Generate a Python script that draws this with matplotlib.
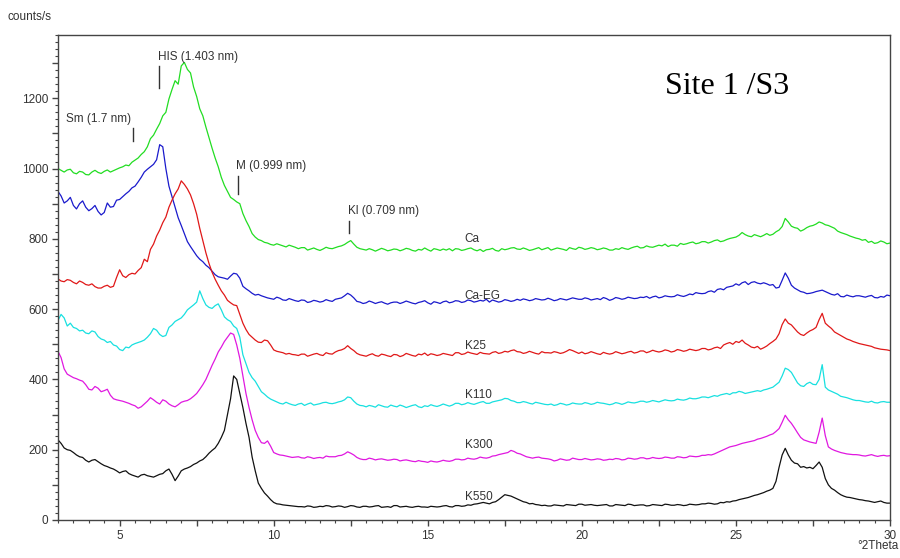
import numpy as np
import matplotlib
matplotlib.use("Agg")
import matplotlib.pyplot as plt
from matplotlib.ticker import MultipleLocator, FuncFormatter

plt.rcParams['font.family'] = ['Liberation Sans', 'DejaVu Sans']

# scan settings (degrees 2theta), one row below = 1 degree
scan_start = 3.0
scan_step = 0.1

# counts/s for each treatment
ca = [
    1000, 995, 990, 996, 998, 988, 985, 992, 990, 983,
    982, 990, 995, 989, 986, 992, 996, 990, 994, 998,
    1002, 1005, 1010, 1008, 1018, 1024, 1030, 1040, 1048, 1062,
    1085, 1095, 1112, 1128, 1150, 1160, 1198, 1225, 1250, 1240,
    1292, 1302, 1282, 1272, 1232, 1205, 1170, 1150, 1118, 1088,
    1058, 1030, 1005, 975, 952, 935, 918, 912, 905, 900,
    872, 852, 835, 815, 805, 798, 795, 790, 788, 784,
    782, 786, 783, 780, 777, 782, 779, 776, 772, 775,
    775, 768, 771, 774, 770, 767, 771, 776, 773, 772,
    775, 778, 780, 784, 790, 795, 785, 776, 772, 770,
    768, 772, 769, 765, 769, 773, 770, 766, 768, 771,
    770, 766, 769, 773, 771, 767, 765, 770, 768, 774,
    769, 765, 772, 770, 767, 771, 768, 772, 766, 772,
    771, 767, 769, 772, 774, 769, 766, 770, 764, 769,
    770, 773, 767, 765, 772, 769, 771, 774, 775, 771,
    770, 774, 771, 767, 769, 772, 775, 769, 772, 775,
    768, 771, 774, 772, 770, 767, 775, 772, 770, 776,
    774, 770, 772, 775, 773, 769, 771, 774, 772, 768,
    768, 772, 770, 775, 772, 770, 774, 777, 779, 774,
    775, 780, 777, 776, 779, 782, 780, 785, 778, 782,
    782, 779, 787, 784, 786, 789, 791, 786, 788, 792,
    792, 788, 791, 795, 797, 792, 794, 798, 801, 803,
    805, 810, 818, 812, 808, 806, 812, 809, 806, 810,
    815, 810, 813, 820, 825, 835, 858, 848, 836, 832,
    830, 822, 826, 832, 836, 838, 842, 848, 845, 840,
    838, 834, 830, 822, 818, 815, 812, 808, 805, 802,
    800, 796, 798, 790, 793, 787, 789, 794, 791, 786,
    788,
]
ca_eg = [
    935, 922, 902, 908, 918, 895, 885, 900, 908, 890,
    880, 886, 895, 878, 868, 875, 902, 890, 892, 910,
    912, 920, 928, 935, 945, 950, 962, 975, 990, 998,
    1005, 1012, 1025, 1068, 1062, 1000, 950, 920, 890, 860,
    838, 815, 792, 778, 765, 752, 742, 735, 725, 718,
    708, 698, 692, 690, 688, 685, 694, 702, 700, 688,
    665, 658, 652, 645, 640, 642, 638, 635, 632, 630,
    628, 634, 631, 626, 625, 630, 627, 624, 622, 626,
    625, 619, 621, 625, 623, 620, 622, 627, 624, 622,
    628, 630, 632, 638, 645, 640, 632, 622, 620, 616,
    618, 623, 620, 616, 619, 621, 617, 614, 618, 620,
    620, 616, 619, 623, 620, 617, 615, 619, 621, 624,
    618, 614, 621, 619, 616, 621, 623, 618, 620, 624,
    623, 619, 621, 626, 624, 620, 622, 625, 623, 628,
    620, 626, 623, 620, 622, 627, 625, 622, 624, 628,
    625, 629, 627, 624, 626, 630, 628, 626, 627, 631,
    628, 624, 626, 630, 628, 626, 629, 632, 630, 628,
    628, 632, 630, 626, 628, 630, 627, 633, 630, 625,
    628, 633, 631, 628, 630, 634, 632, 630, 631, 634,
    633, 636, 631, 635, 637, 632, 634, 638, 636, 635,
    636, 641, 638, 636, 639, 643, 641, 647, 645, 644,
    645, 650, 652, 648, 656, 658, 655, 662, 664, 666,
    672, 668, 675, 678, 670, 676, 678, 674, 672, 675,
    672, 668, 670, 660, 662, 682, 703, 688, 668, 660,
    655, 650, 648, 644, 645, 647, 650, 652, 654, 650,
    646, 642, 640, 644, 636, 635, 640, 637, 635, 638,
    638, 636, 634, 637, 639, 633, 632, 636, 634, 640,
    638,
]
k25 = [
    686, 680, 678, 684, 682, 676, 672, 680, 676, 670,
    668, 672, 664, 660, 660, 665, 668, 662, 665, 690,
    712, 695, 690, 698, 702, 700, 710, 718, 742, 735,
    770, 785, 808, 825, 846, 862, 890, 910, 928, 942,
    965, 955, 942, 925, 900, 870, 830, 795, 760, 730,
    705, 685, 668, 652, 640, 625, 618, 612, 610, 585,
    560, 542, 528, 520, 512, 506, 505, 512, 510, 498,
    484, 480, 478, 476, 472, 474, 471, 470, 468, 472,
    472, 466, 469, 472, 474, 470, 468, 476, 473, 472,
    478, 482, 484, 488, 496, 488, 482, 474, 470, 468,
    466, 470, 473, 468, 466, 472, 470, 467, 465, 471,
    470, 465, 468, 474, 471, 468, 466, 472, 470, 475,
    468, 473, 471, 468, 470, 474, 472, 470, 468, 476,
    476, 471, 473, 478, 475, 473, 471, 477, 474, 473,
    472, 477, 479, 474, 476, 480, 478, 482, 484, 479,
    478, 474, 476, 480, 477, 474, 472, 479, 476, 476,
    475, 479, 477, 474, 476, 480, 485, 482, 478, 474,
    478, 473, 475, 479, 476, 473, 471, 477, 474, 472,
    474, 479, 476, 473, 475, 478, 480, 475, 477, 481,
    481, 476, 479, 483, 480, 478, 480, 484, 482, 478,
    480, 485, 483, 480, 482, 486, 484, 482, 484, 488,
    488, 484, 486, 490, 492, 488, 498, 502, 505, 500,
    508, 505, 512, 503, 498, 492, 490, 494, 486, 490,
    495, 502, 508, 515, 530, 556, 572, 560, 555, 545,
    535, 528, 525, 532, 538, 542, 548, 570, 588, 560,
    552, 545, 535, 530, 525, 520, 515, 512, 508, 505,
    502, 500, 498, 496, 494, 490, 488, 486, 485, 484,
    482,
]
k110 = [
    568, 585, 575, 552, 560, 548, 545, 538, 540, 532,
    530, 538, 535, 522, 515, 512, 505, 508, 498, 495,
    485, 482, 492, 490, 498, 502, 505, 508, 512, 520,
    530, 545, 540, 528, 522, 525, 548, 555, 565, 570,
    575, 585, 598, 605, 612, 620, 652, 630, 612, 605,
    602, 610, 615, 598, 578, 570, 565, 552, 545, 520,
    470, 445, 420, 405, 395, 380, 365, 358, 350, 344,
    340, 336, 332, 330, 335, 331, 328, 326, 330, 332,
    326, 330, 333, 327, 329, 331, 334, 335, 332, 331,
    333, 336, 338, 342, 350, 348, 338, 330, 326, 325,
    322, 326, 324, 321, 328, 325, 322, 321, 327, 324,
    322, 327, 324, 320, 323, 326, 328, 322, 320, 325,
    323, 328, 325, 323, 326, 330, 327, 324, 327, 332,
    332, 328, 330, 334, 331, 329, 332, 335, 337, 332,
    332, 336, 338, 340, 342, 346, 345, 340, 338, 334,
    334, 337, 335, 332, 330, 335, 333, 331, 329, 328,
    330, 326, 328, 332, 330, 327, 329, 333, 331, 330,
    330, 334, 332, 329, 331, 335, 333, 332, 330, 328,
    330, 334, 332, 329, 332, 336, 334, 333, 335, 338,
    338, 335, 337, 340, 338, 336, 339, 342, 340, 339,
    340, 344, 342, 341, 343, 347, 345, 345, 347, 350,
    350, 348, 351, 354, 352, 356, 358, 360, 357, 362,
    362, 366, 364, 360, 362, 364, 366, 368, 366, 370,
    372, 375, 378, 385, 392, 410, 432, 428, 420, 405,
    390, 382, 380, 388, 392, 386, 385, 400, 442, 378,
    370, 366, 362, 358, 352, 350, 348, 345, 342, 340,
    340, 338, 336, 335, 338, 334, 333, 336, 337, 335,
    335,
]
k300 = [
    480, 462, 430, 415, 410, 405, 402, 398, 395, 385,
    372, 370, 380, 375, 365, 368, 372, 355, 345, 342,
    340, 338, 335, 332, 328, 325, 318, 322, 330, 338,
    348, 342, 335, 330, 342, 338, 330, 325, 322, 328,
    335, 338, 340, 345, 352, 360, 372, 385, 400, 420,
    440, 458, 478, 492, 508, 520, 532, 528, 498, 460,
    410, 360, 320, 285, 255, 235, 220, 218, 225, 210,
    192, 188, 185, 184, 182, 180, 178, 179, 180, 177,
    176, 180, 178, 175, 177, 178, 176, 182, 180, 180,
    180, 183, 184, 188, 194, 190, 185, 178, 174, 172,
    172, 176, 174, 171, 173, 174, 172, 170, 171, 173,
    172, 168, 170, 171, 169, 167, 166, 169, 167, 166,
    164, 168, 166, 165, 167, 170, 168, 167, 169, 173,
    173, 171, 172, 176, 174, 173, 175, 179, 177, 176,
    178, 182, 183, 186, 188, 190, 192, 198, 195, 190,
    188, 184, 180, 178, 176, 178, 179, 176, 175, 174,
    172, 168, 170, 174, 172, 170, 171, 176, 174, 172,
    172, 175, 173, 171, 172, 174, 173, 170, 171, 173,
    172, 175, 174, 171, 172, 176, 175, 173, 174, 177,
    177, 174, 175, 178, 176, 175, 176, 179, 178, 176,
    176, 180, 179, 177, 178, 182, 181, 180, 181, 184,
    184, 186, 185, 188, 192, 196, 200, 204, 208, 210,
    212, 215, 218, 220, 222, 224, 226, 230, 232, 235,
    238, 242, 245, 252, 260, 278, 298, 285, 275, 262,
    248, 235, 228, 225, 222, 220, 218, 250, 290, 240,
    208, 202, 198, 195, 192, 190, 188, 187, 186, 186,
    185, 183, 182, 184, 186, 183, 181, 183, 184, 182,
    183,
]
k550 = [
    228, 218, 205, 200, 198, 192, 185, 180, 178, 170,
    165, 170, 172, 166, 160, 155, 152, 148, 145, 140,
    134, 138, 140, 132, 128, 125, 122, 128, 130, 126,
    124, 122, 126, 130, 132, 140, 145, 130, 112, 125,
    140, 145, 148, 152, 158, 162, 168, 172, 180, 190,
    198, 205, 218, 235, 255, 300, 345, 410, 400, 360,
    320, 275, 235, 179, 140, 105, 90, 77, 68, 58,
    50, 46, 45, 43, 42, 41, 40, 39, 38, 38,
    37, 40, 39, 36, 37, 39, 38, 41, 40, 37,
    38, 40, 39, 36, 38, 41, 40, 37, 36, 39,
    39, 37, 38, 40, 41, 36, 37, 38, 36, 41,
    41, 37, 38, 39, 37, 36, 38, 39, 37, 37,
    36, 39, 38, 37, 38, 40, 41, 38, 37, 41,
    41, 39, 40, 43, 42, 45, 46, 48, 50, 48,
    46, 50, 52, 58, 65, 72, 70, 68, 64, 60,
    56, 52, 50, 46, 47, 44, 43, 41, 42, 40,
    40, 43, 42, 41, 40, 44, 43, 42, 41, 45,
    45, 42, 43, 44, 42, 41, 42, 43, 44, 40,
    40, 44, 43, 42, 41, 45, 44, 41, 42, 43,
    43, 40, 41, 44, 43, 42, 41, 45, 44, 42,
    42, 44, 43, 41, 42, 45, 44, 43, 44, 46,
    46, 48, 47, 45, 46, 50, 49, 52, 51, 54,
    55, 58, 60, 62, 64, 67, 70, 72, 75, 78,
    82, 85, 90, 110, 150, 185, 204, 185, 170, 162,
    160, 150, 152, 148, 150, 146, 155, 165, 150, 118,
    100, 90, 85, 78, 72, 68, 65, 64, 62, 60,
    58, 57, 55, 54, 52, 50, 52, 54, 50, 48,
    48,
]

series = [ca, ca_eg, k25, k110, k300, k550]
names = ['Ca', 'Ca-EG', 'K25', 'K110', 'K300', 'K550']
colors = ['#22dd22', '#1a1acc', '#e01818', '#18e0e0', '#e018e0', '#111111']
name_y = [800, 638, 496, 355, 213, 65]

# reflection markers: label, 2theta, tick bottom, tick top
peak_names = ['Sm (1.7 nm)', 'HIS (1.403 nm)', 'M (0.999 nm)', 'Kl (0.709 nm)']
peak_pos = [5.42, 6.29, 8.84, 12.45]
peak_lo = [1078, 1228, 928, 817]
peak_hi = [1115, 1291, 979, 851]

fig = plt.figure(figsize=(9, 5.58), dpi=100)
ax = fig.add_axes([58 / 900, 38 / 558, 832 / 900, 485 / 558])

two_theta = scan_start + scan_step * np.arange(len(ca))
for ys, c in zip(series, colors):
    ax.plot(two_theta, ys, color=c, lw=0.9)

for n, yy in zip(names, name_y):
    ax.text(16.2, yy, n, fontsize=8.5, color='#333333', va='center', ha='left')

for i in range(len(peak_names)):
    ax.plot([peak_pos[i], peak_pos[i]], [peak_lo[i], peak_hi[i]], color='#333333', lw=1)
    if i == 0:
        ax.text(peak_pos[i] - 0.05, peak_hi[i] + 10, peak_names[i], fontsize=8.5,
                color='#333333', ha='right', va='bottom')
    else:
        ax.text(peak_pos[i] - 0.05, peak_hi[i] + 10, peak_names[i], fontsize=8.5,
                color='#333333', ha='left', va='bottom')

ax.text(0.804, 0.893, 'Site 1 /S3', transform=ax.transAxes, fontsize=23,
        family=['Liberation Serif', 'DejaVu Serif'], ha='center', va='center')

ax.set_xlim(3, 30)
ax.set_ylim(0, 1380)
ax.xaxis.set_major_locator(MultipleLocator(2.5))
ax.xaxis.set_minor_locator(MultipleLocator(0.5))
ax.yaxis.set_major_locator(MultipleLocator(100))
ax.yaxis.set_minor_locator(MultipleLocator(20))
ax.xaxis.set_major_formatter(FuncFormatter(lambda v, p: '%d' % v if v % 5 == 0 else ''))
ax.yaxis.set_major_formatter(FuncFormatter(lambda v, p: '%d' % v if v % 200 == 0 else ''))
ax.tick_params(which='major', length=4, width=1, color='#444444', labelsize=8.5,
               labelcolor='#333333', pad=3)
ax.tick_params(which='minor', length=2, width=0.8, color='#444444')
for s in ax.spines.values():
    s.set_color('#444444')
    s.set_linewidth(1)

fig.text(8 / 900, 1 - 17 / 558, 'counts/s', fontsize=8.5, color='#333333', va='center')
fig.text(898 / 900, 1 - 546 / 558, '°2Theta', fontsize=8.5, color='#333333',
         va='center', ha='right')

fig.savefig('out.png', dpi=100)
